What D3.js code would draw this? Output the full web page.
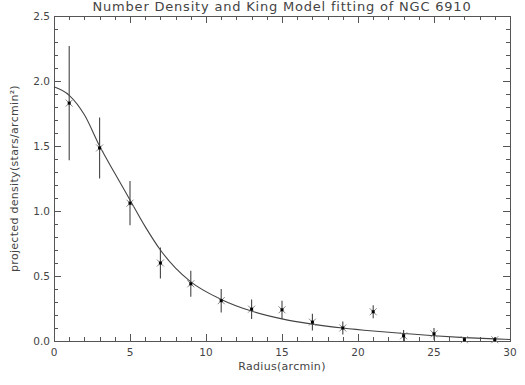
<!DOCTYPE html>
<meta charset="utf-8">
<style>
body { margin: 0; background: #fff; }
text { font-family: "DejaVu Sans", sans-serif; fill: #444; }
.tick-label { font-size: 10.5px; }
.lable { font-size: 11px; text-anchor: middle; letter-spacing: 0.3px; }
</style>
<body>
<script src="https://d3js.org/d3.v7.min.js"></script>
<script>
// measured points (radius, density, error)
var radius = [1, 3, 5, 7, 9, 11, 13, 15, 17, 19, 21, 23, 25, 27, 29];
var density = [1.83, 1.485, 1.06, 0.60, 0.44, 0.31, 0.245, 0.24, 0.145, 0.10, 0.225, 0.04, 0.055, 0.01, 0.01];
var densErr = [0.44, 0.235, 0.17, 0.12, 0.10, 0.09, 0.075, 0.07, 0.065, 0.05, 0.05, 0.045, 0.045, 0.02, 0.02];

// King model curve
var fitR = [0, 1, 2, 3, 4, 5, 6, 7, 8, 9, 11, 13, 15, 17, 19, 21, 23, 25, 27, 29, 30];
var fitD = [1.955, 1.89, 1.74, 1.50, 1.29, 1.085, 0.88, 0.70, 0.56, 0.455, 0.32, 0.23, 0.17, 0.13, 0.10, 0.077, 0.058, 0.04, 0.026, 0.016, 0.012];

var xTicks = [0, 5, 10, 15, 20, 25, 30];
var yTicks = [0.0, 0.5, 1.0, 1.5, 2.0, 2.5];

var W = 525, H = 385;
var margin = {top: 16, right: 15, bottom: 44, left: 54},
    width = W - margin.left - margin.right,
    height = H - margin.top - margin.bottom;

var x = d3.scaleLinear().domain([0, 30]).range([0, width]);
var y = d3.scaleLinear().domain([0, 2.5]).range([height, 0]);

var svg = d3.select("body").append("svg")
    .attr("width", W).attr("height", H)
  .append("g")
    .attr("transform", "translate(" + margin.left + "," + margin.top + ")");

var axisCol = "#555";

// frame
svg.append("rect")
    .attr("x", 0.5).attr("y", 0.5)
    .attr("width", width).attr("height", height)
    .attr("fill", "none").attr("stroke", axisCol);

// minor + major ticks on all four sides
var xMinor = d3.range(0, 31, 1), yMinor = d3.range(0, 26, 1).map(function(d) { return d / 10; });
function isMajorX(v) { return v % 5 === 0; }
function isMajorY(v) { return Math.abs(v * 2 - Math.round(v * 2)) < 1e-6; }

var ticks = svg.append("g").attr("stroke", axisCol).attr("stroke-width", 1);
xMinor.forEach(function(v) {
    var len = isMajorX(v) ? 7 : 4, px = Math.round(x(v)) + 0.5;
    ticks.append("line").attr("x1", px).attr("x2", px).attr("y1", height).attr("y2", height - len);
    ticks.append("line").attr("x1", px).attr("x2", px).attr("y1", 0).attr("y2", len);
});
yMinor.forEach(function(v) {
    var len = isMajorY(v) ? 7 : 4, py = Math.round(y(v)) + 0.5;
    ticks.append("line").attr("x1", 0).attr("x2", len).attr("y1", py).attr("y2", py);
    ticks.append("line").attr("x1", width).attr("x2", width - len).attr("y1", py).attr("y2", py);
});

// tick labels
svg.selectAll(".xl").data(xTicks).enter().append("text")
    .attr("class", "tick-label")
    .attr("x", function(d) { return x(d); })
    .attr("y", height + 15)
    .attr("text-anchor", "middle")
    .text(function(d) { return d; });

svg.selectAll(".yl").data(yTicks).enter().append("text")
    .attr("class", "tick-label")
    .attr("x", -4)
    .attr("y", function(d) { return y(d) + 4; })
    .attr("text-anchor", "end")
    .text(function(d) { return d.toFixed(1); });

// fitted curve
var line = d3.line()
    .x(function(d) { return x(d[0]); })
    .y(function(d) { return y(d[1]); })
    .curve(d3.curveMonotoneX);

svg.append("path")
    .attr("d", line(d3.zip(fitR, fitD)))
    .attr("fill", "none")
    .attr("stroke", "#444")
    .attr("stroke-width", 1.1);

// error bars + markers
var pts = radius.map(function(r, i) { return {r: r, d: density[i], e: densErr[i]}; });
var g = svg.selectAll(".pt").data(pts).enter().append("g");

g.append("line")
    .attr("x1", function(d) { return x(d.r); })
    .attr("x2", function(d) { return x(d.r); })
    .attr("y1", function(d) { return y(Math.min(2.5, d.d + d.e)); })
    .attr("y2", function(d) { return y(Math.max(0, d.d - d.e)); })
    .attr("stroke", "#444").attr("stroke-width", 1.1);

var s = 3.5;
g.append("path")
    .attr("d", function(d) {
        var cx = x(d.r), cy = y(d.d);
        return "M" + (cx - s) + "," + (cy - s) + "L" + (cx + s) + "," + (cy + s) +
               "M" + (cx - s) + "," + (cy + s) + "L" + (cx + s) + "," + (cy - s);
    })
    .attr("stroke", "#888").attr("stroke-width", 1);

g.append("rect")
    .attr("x", function(d) { return x(d.r) - 1.5; })
    .attr("y", function(d) { return y(d.d) - 1.5; })
    .attr("width", 3).attr("height", 3)
    .attr("fill", "#000");

// titles
svg.append("text")
    .attr("class", "lable")
    .attr("x", width / 2)
    .attr("y", -5)
    .style("font-size", "13px")
    .style("letter-spacing", "0.8px")
    .text("Number Density and King Model fitting of NGC 6910");

svg.append("text")
    .attr("class", "lable")
    .attr("x", width / 2)
    .attr("y", height + 29)
    .text("Radius(arcmin)");

svg.append("text")
    .attr("class", "lable")
    .attr("transform", "translate(" + (-36) + "," + (height / 2) + ") rotate(-90)")
    .text("projected density(stars/arcmin²)");
</script>
</body>
